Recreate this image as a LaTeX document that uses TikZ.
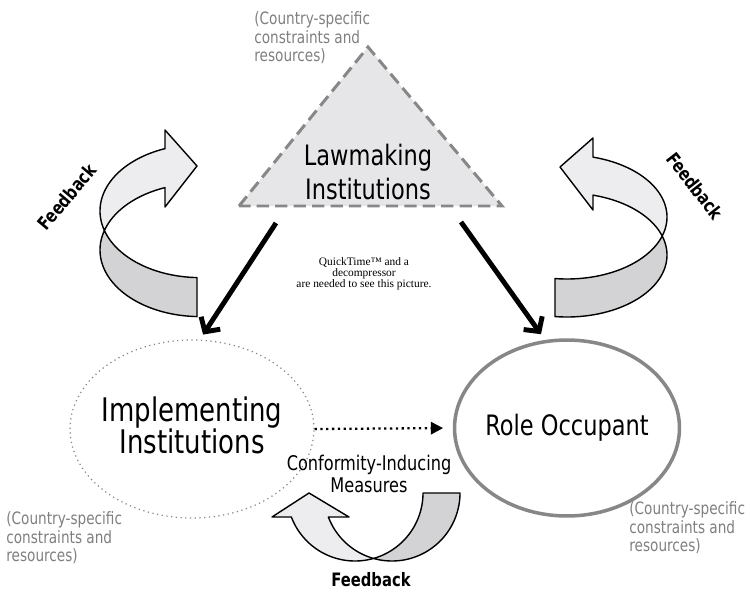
\documentclass[tikz,border=0pt]{standalone}
\usepackage{fontspec}
\setmainfont{DejaVu Sans}[FakeStretch=0.8]
\newfontfamily\qtfont{Liberation Serif}
\usetikzlibrary{shapes.geometric,arrows.meta}

\definecolor{bandlight}{HTML}{EDEDEF}
\definecolor{banddark}{HTML}{D3D3D5}
\definecolor{rimgray}{HTML}{878787}
\definecolor{notegray}{HTML}{7F7F7F}
\definecolor{lawfill}{HTML}{E6E6E8}

\tikzset{
  bigtext/.style={font=\fontsize{16}{19.3}\selectfont, align=center, inner sep=0pt},
  note/.style={font=\fontsize{9.7}{10.5}\selectfont, text=notegray, align=left, anchor=west, inner sep=0pt},
  fbtext/.style={font=\fontsize{10.5}{12}\selectfont\bfseries, inner sep=0pt},
  bigarrow/.style={line width=2.8pt, -{Straight Barb[length=6pt,width=13pt]}},
  ribbon/.style={draw=black, line width=0.8pt, line join=round},
}

\begin{document}
\begin{tikzpicture}[x=0.02cm,y=-0.02cm]
		\useasboundingbox (0,0) rectangle (750,592);
		\coordinate (apex) at (368,47);
		\coordinate (baseL) at (239,206);
		\coordinate (baseR) at (502,206);
		\coordinate (law1) at (276,223);
		\coordinate (law2) at (461,222);
		
		% the lawmaking triangle
		\fill[lawfill] (baseL) -- (apex) -- (baseR) -- cycle;
		\draw[rimgray, line width=1.7pt, dash pattern=on 7pt off 3.5pt] (baseL) -- (apex) -- (baseR) -- cycle;
		\node[bigtext] (law) at (368,172) {Lawmaking\\Institutions};
		
		% the two institutions
		\node[ellipse, draw=rimgray, line width=0.7pt, dotted, minimum width=4.88cm, minimum height=3.56cm] (impl) at (192,429) {};
		\node[bigtext, font=\fontsize{18.5}{18.3}\selectfont] (impltext) at (192,425) {Implementing\\Institutions};
		\node[ellipse, draw=rimgray, line width=2pt, minimum width=4.5cm, minimum height=3.52cm] (role) at (567,428) {};
		\node[bigtext] (roletext) at (role) {Role Occupant};
		
		% the arrows between them
		\draw[bigarrow, shorten >=3.4pt] (law1) -- (impl.85.5);
		\draw[bigarrow, shorten >=4pt] (law2) -- (role.104.5);
		\draw[line width=1.3pt, dotted, -{Triangle[length=7pt,width=7pt]}, shorten >=5.5pt] (impl.east) -- (role.west);
		
		% left feedback ribbon
		\filldraw[ribbon, fill=bandlight] (165,188) -- (165,207) -- (197,166) -- (165,130) -- (165,149)
		-- plot[domain=249.5:163, samples=40] ({200+100*cos(\x)},{211+66.6*sin(\x)})
		-- plot[domain=197:249.5, samples=30] ({200+100*cos(\x)},{250+66.6*sin(\x)}) -- cycle;
		\filldraw[ribbon, fill=banddark] plot[domain=163:91.7, samples=40] ({200+100*cos(\x)},{211+66.6*sin(\x)})
		-- plot[domain=91.7:197, samples=50] ({200+100*cos(\x)},{250+66.6*sin(\x)}) -- cycle;
		
		% right feedback ribbon
		\filldraw[ribbon, fill=bandlight] (593,195) -- (593,210) -- (560,167) -- (593,138) -- (593,157)
		-- plot[domain=-74.9:17.8, samples=40] ({567+100*cos(\x)},{217+62*sin(\x)})
		-- plot[domain=-17.8:-74.9, samples=30] ({567+100*cos(\x)},{255+62*sin(\x)}) -- cycle;
		\filldraw[ribbon, fill=banddark] plot[domain=17.8:96.9, samples=40] ({567+100*cos(\x)},{217+62*sin(\x)})
		-- plot[domain=96.9:-17.8, samples=50] ({567+100*cos(\x)},{255+62*sin(\x)}) -- cycle;
		
		% bottom feedback ribbon
		\filldraw[ribbon, fill=bandlight] (328.4,517) -- (349,517) -- (309,493) -- (272,517) -- (291.4,517)
		-- plot[domain=159.3:74.2, samples=40] ({355+68*cos(\x)},{493+68*sin(\x)})
		-- plot[domain=105.8:159.3, samples=30] ({392+68*cos(\x)},{493+68*sin(\x)}) -- cycle;
		\filldraw[ribbon, fill=banddark] plot[domain=74.2:0, samples=40] ({355+68*cos(\x)},{493+68*sin(\x)})
		-- plot[domain=0:105.8, samples=50] ({392+68*cos(\x)},{493+68*sin(\x)}) -- cycle;
		
		% labels
		\node[fbtext, rotate=50] (fbL) at (67,197) {Feedback};
		\node[fbtext, rotate=-52] (fbR) at (695,186) {Feedback};
		\node[fbtext] (fbB) at (371,580) {Feedback};
		\node[font=\fontsize{11.5}{12.5}\selectfont, align=center, inner sep=0pt] (measures) at (369,474) {Conformity-Inducing\\Measures};
		\node[font=\qtfont\fontsize{6.5}{6.3}\selectfont, align=center, inner sep=0pt] (qt) at (364,274) {QuickTime™ and a\\decompressor\\are needed to see this picture.};
		
		% country-specific notes
		\node[note] (noteT) at (254,38) {(Country-specific\\constraints and\\resources)};
		\node[note] (noteL) at (6,538) {(Country-specific\\constraints and\\resources)};
		\node[note] (noteR) at (629,528) {(Country-specific\\constraints and\\resources)};
	\end{tikzpicture}
\end{document}
